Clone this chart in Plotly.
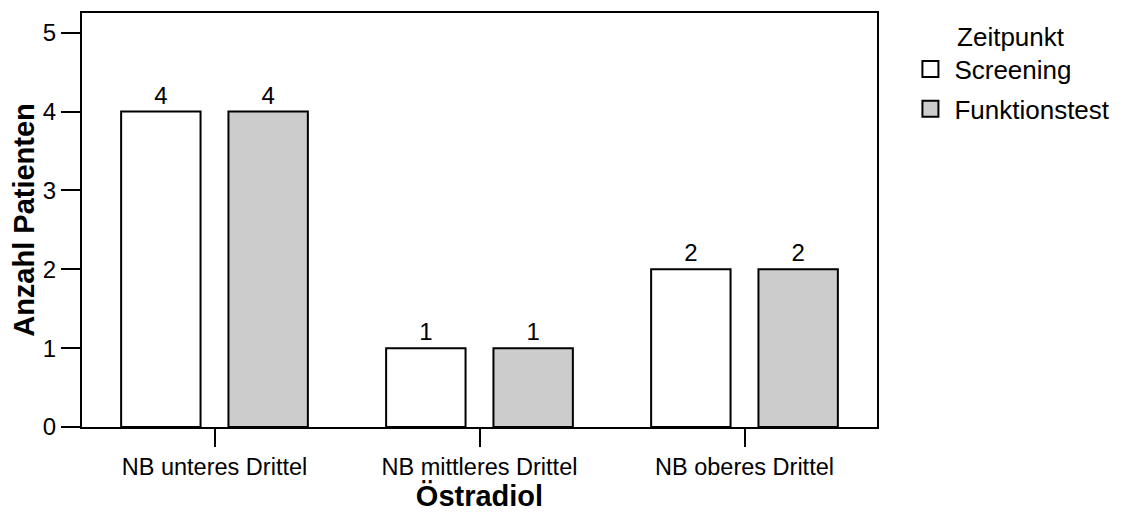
import plotly.graph_objects as go

categories = ["NB unteres Drittel", "NB mittleres Drittel", "NB oberes Drittel"]
screening = [4, 1, 2]
funktionstest = [4, 1, 2]
series_names = ["Screening", "Funktionstest"]
series_colors = ["#ffffff", "#cccccc"]
y_ticks = [0, 1, 2, 3, 4, 5]

FONT = "Liberation Sans, Arial, Helvetica, sans-serif"

fig = go.Figure()
for name, vals, col in zip(series_names, [screening, funktionstest], series_colors):
    fig.add_trace(go.Bar(
        x=categories, y=vals, name=name,
        marker=dict(color=col, line=dict(color="black", width=2)),
        text=vals, textposition="outside", texttemplate="%{y}",
        textfont=dict(size=24, color="black", family=FONT),
        cliponaxis=False, showlegend=False,
    ))
# legend proxies (larger square symbols)
for name, col in zip(series_names, series_colors):
    fig.add_trace(go.Scatter(
        x=[None], y=[None], mode="markers", name=name,
        legendgroup=name,
        marker=dict(symbol="square", size=16, color=col,
                    line=dict(color="black", width=2)),
    ))

fig.update_layout(
    width=1117, height=505,
    margin=dict(l=74, r=248, t=5, b=86, autoexpand=False),
    paper_bgcolor="white", plot_bgcolor="white",
    font=dict(family=FONT, color="black", size=23),
    barmode="group", bargap=0.19, bargroupgap=0.26,
    legend=dict(
        title=dict(text="Zeitpunkt", side="top center", font=dict(size=26)),
        font=dict(size=26), x=1.037, xanchor="left", y=1.003, yanchor="top",
        traceorder="grouped", tracegroupgap=3, bgcolor="rgba(0,0,0,0)",
        itemwidth=38,
    ),
    showlegend=True,
)
fig.update_xaxes(
    range=[-0.5, 2.5], showline=True, linecolor="black", linewidth=2, mirror=True,
    ticks="outside", ticklen=18, tickwidth=2, tickcolor="black",
    tickfont=dict(size=23.5), showgrid=False, zeroline=False,
    title=dict(text="<b>Östradiol</b>", font=dict(size=29), standoff=2),
)
fig.update_yaxes(
    range=[0, 5.25], tickvals=y_ticks, showline=True, linecolor="black", linewidth=2,
    mirror=True, ticks="outside", ticklen=19, tickwidth=2, tickcolor="black",
    tickfont=dict(size=24), showgrid=False, zeroline=False,
    title=dict(text="<b>Anzahl Patienten</b>", font=dict(size=29), standoff=8),
)

fig.write_html("out.html")
